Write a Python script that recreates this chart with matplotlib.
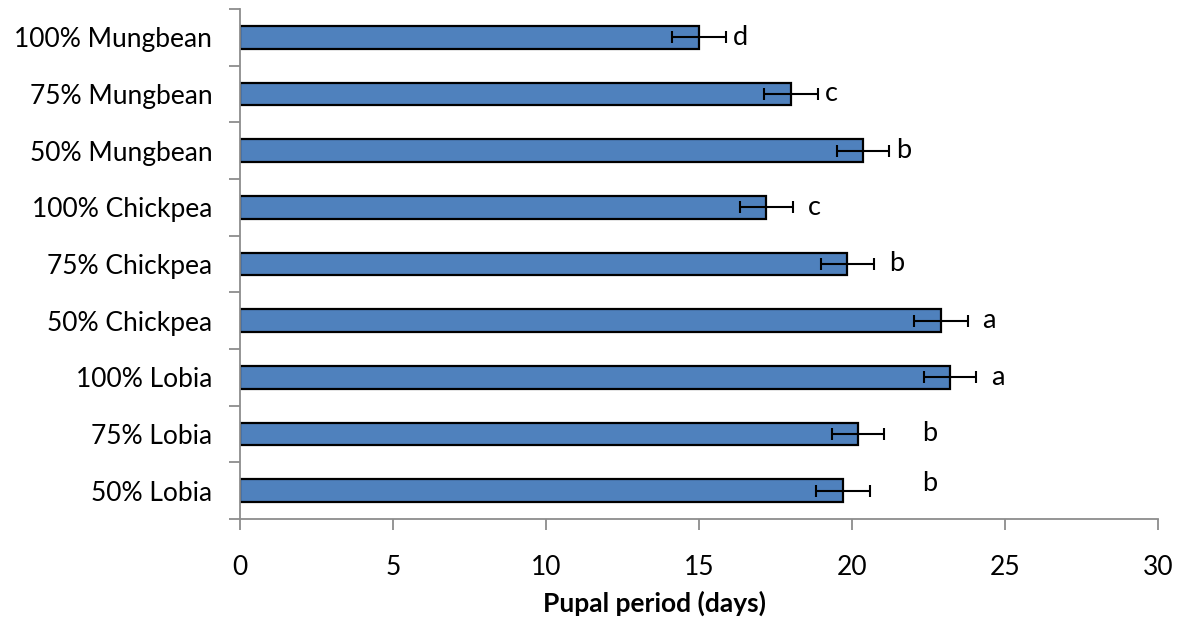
import numpy as np
import matplotlib.pyplot as plt
from matplotlib.ticker import FixedLocator

plt.rcParams['font.family'] = ['Lato', 'DejaVu Sans']

labels = ['100% Mungbean', '75% Mungbean', '50% Mungbean',
          '100% Chickpea', '75% Chickpea', '50% Chickpea',
          '100% Lobia', '75% Lobia', '50% Lobia']
days = [15.0, 18.0, 20.35, 17.2, 19.85, 22.9, 23.2, 20.2, 19.7]
errs = [0.88, 0.88, 0.85, 0.87, 0.87, 0.88, 0.85, 0.85, 0.88]
letters = ['d', 'c', 'b', 'c', 'b', 'a', 'a', 'b', 'b']
letter_x = [16.1, 19.1, 21.45, 18.55, 21.2, 24.25, 24.55, 22.3, 22.3]
letter_dy = [0, 0, 0, 0, 0, 0, 0, 0, -0.12]

fig = plt.figure(figsize=(11.82, 6.19), dpi=100)
ax = fig.add_axes([0.203, 0.1616, 0.7767, 0.824])

y = np.arange(len(labels))
ax.barh(y, days, height=0.4, color='#4F81BD', edgecolor='black', linewidth=1.6,
        zorder=2)
ax.errorbar(days, y, xerr=errs, fmt='none', ecolor='black', elinewidth=1.5,
            capsize=4, capthick=1.5, zorder=3)
for yi, lx, dy, t in zip(y, letter_x, letter_dy, letters):
    ax.text(lx, yi + dy, t, fontsize=19.5, va='center', ha='left')

ax.set_ylim(len(labels) - 0.5, -0.5)
ax.set_xlim(0, 30)
ax.set_xticks(np.arange(0, 31, 5))
ax.set_yticks(y)
ax.set_yticklabels(labels)
ax.yaxis.set_minor_locator(FixedLocator(np.arange(-0.5, len(labels), 1)))
ax.tick_params(axis='y', which='major', length=0, pad=20, labelsize=19)
ax.tick_params(axis='y', which='minor', length=8, width=1.3, color='#8c8c8c')
ax.tick_params(axis='x', which='major', length=8, width=1.3, color='#8c8c8c',
               labelsize=19, pad=18)

for s in ['top', 'right']:
    ax.spines[s].set_visible(False)
for s in ['left', 'bottom']:
    ax.spines[s].set_color('#8c8c8c')
    ax.spines[s].set_linewidth(1.3)

ax.set_xlabel('Pupal period (days)', fontsize=19, fontweight='bold', va='center')
ax.xaxis.set_label_coords(0.452, -0.165)

fig.savefig('out.png', dpi=100)
